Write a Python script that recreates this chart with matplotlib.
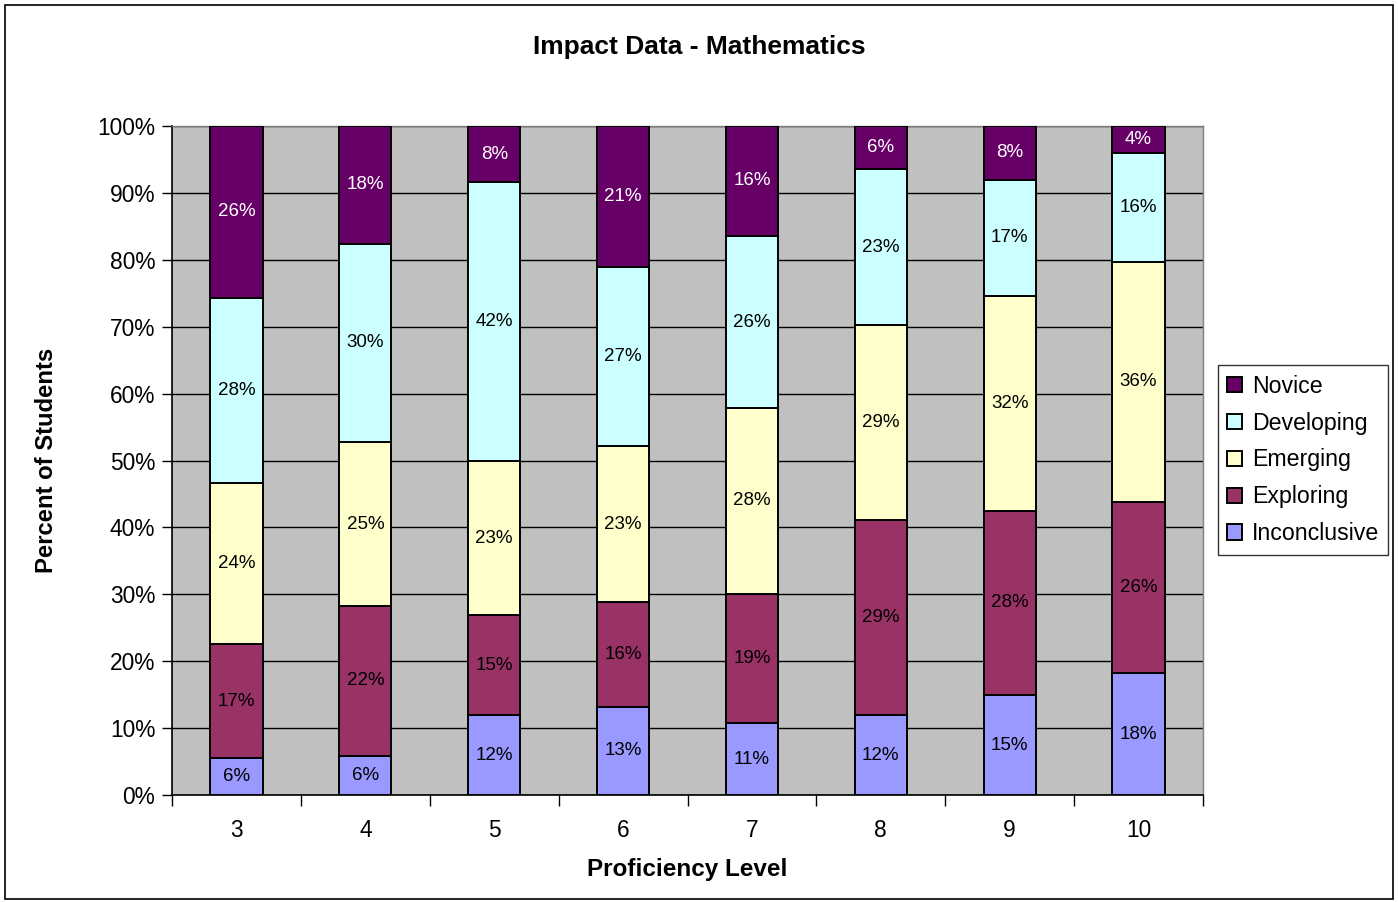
import matplotlib
matplotlib.use("Agg")
import matplotlib.pyplot as plt
from matplotlib.patches import Rectangle
from matplotlib.ticker import FixedLocator, PercentFormatter
import numpy as np

plt.rcParams['font.family'] = ['Liberation Sans', 'DejaVu Sans']

levels = ["3", "4", "5", "6", "7", "8", "9", "10"]

inconclusive = [5.6, 5.9, 11.9, 13.2, 10.7, 11.9, 14.9, 18.2]
exploring    = [16.9, 22.3, 15.0, 15.7, 19.4, 29.2, 27.6, 25.6]
emerging     = [24.2, 24.6, 23.0, 23.2, 27.7, 29.1, 32.1, 35.9]
developing   = [27.6, 29.6, 41.7, 26.8, 25.8, 23.4, 17.4, 16.2]
novice       = [25.7, 17.6, 8.4, 21.1, 16.4, 6.4, 8.0, 4.1]

series = [
    ("Inconclusive", inconclusive, "#9999FF", "black"),
    ("Exploring",    exploring,    "#993366", "black"),
    ("Emerging",     emerging,     "#FFFFCC", "black"),
    ("Developing",   developing,   "#CCFFFF", "black"),
    ("Novice",       novice,       "#660066", "white"),
]

W, H = 1398, 902
fig = plt.figure(figsize=(W / 100, H / 100), dpi=100)
fig.patch.set_facecolor("white")

# outer chart border
fig.add_artist(Rectangle((5 / W, 3 / H), 1388 / W, 894 / H, transform=fig.transFigure,
                         fill=False, edgecolor="black", linewidth=1.2))

ax = fig.add_axes([172 / W, 1 - 795 / H, (1203 - 172) / W, (795 - 126) / H])
ax.set_facecolor("#C0C0C0")

x = np.arange(len(levels))
totals = np.sum([s[1] for s in series], axis=0)
bottom = np.zeros(len(levels))
handles = []
for name, vals, color, tcolor in series:
    vals = np.asarray(vals, dtype=float)
    pct = vals / totals * 100
    bars = ax.bar(x, pct, width=0.405, bottom=bottom, color=color,
                  edgecolor="black", linewidth=1.4, zorder=3, label=name)
    handles.append(bars)
    for xi, b, h, v in zip(x, bottom, pct, vals):
        ax.text(xi, b + h / 2, f"{v:.0f}%", ha="center", va="center",
                fontsize=13.5, color=tcolor, zorder=4)
    bottom += pct

ax.set_xlim(-0.5, len(levels) - 0.5)
ax.set_ylim(0, 100)
ax.yaxis.set_major_locator(FixedLocator(np.arange(0, 101, 10)))
ax.yaxis.set_major_formatter(PercentFormatter(decimals=0))
ax.grid(axis="y", color="black", linewidth=1.0, zorder=1)
ax.set_axisbelow(True)

ax.set_xticks(x)
ax.set_xticklabels(levels, fontsize=16.4)
ax.tick_params(axis="x", which="major", length=0, pad=17)
ax.set_xticks(np.arange(-0.5, len(levels) + 0.5, 1), minor=True)
ax.tick_params(axis="x", which="minor", length=8, width=1, direction="out")
ax.tick_params(axis="y", length=7, width=1, direction="out", labelsize=16.4, pad=5)

for side in ("top", "right"):
    ax.spines[side].set_color("#808080")
    ax.spines[side].set_linewidth(1.0)
for side in ("left", "bottom"):
    ax.spines[side].set_color("black")
    ax.spines[side].set_linewidth(1.2)

ax.set_xlabel("Proficiency Level", fontsize=17.5, fontweight="bold", labelpad=12)
ax.set_ylabel("Percent of Students", fontsize=17.2, fontweight="bold", labelpad=28)
fig.text(0.5, 1 - 47 / H, "Impact Data - Mathematics", ha="center", va="center",
         fontsize=19, fontweight="bold")

leg = fig.legend(handles=handles[::-1], labels=[s[0] for s in series][::-1],
                 loc="center left", bbox_to_anchor=(1218 / W, 1 - 460 / H),
                 frameon=True, fancybox=False, fontsize=16.7, handlelength=0.65,
                 handleheight=0.65, handletextpad=0.4, labelspacing=0.6,
                 borderpad=0.4, borderaxespad=0)
leg.get_frame().set_edgecolor("black")
leg.get_frame().set_linewidth(1.0)

fig.savefig("out.png", dpi=100)
